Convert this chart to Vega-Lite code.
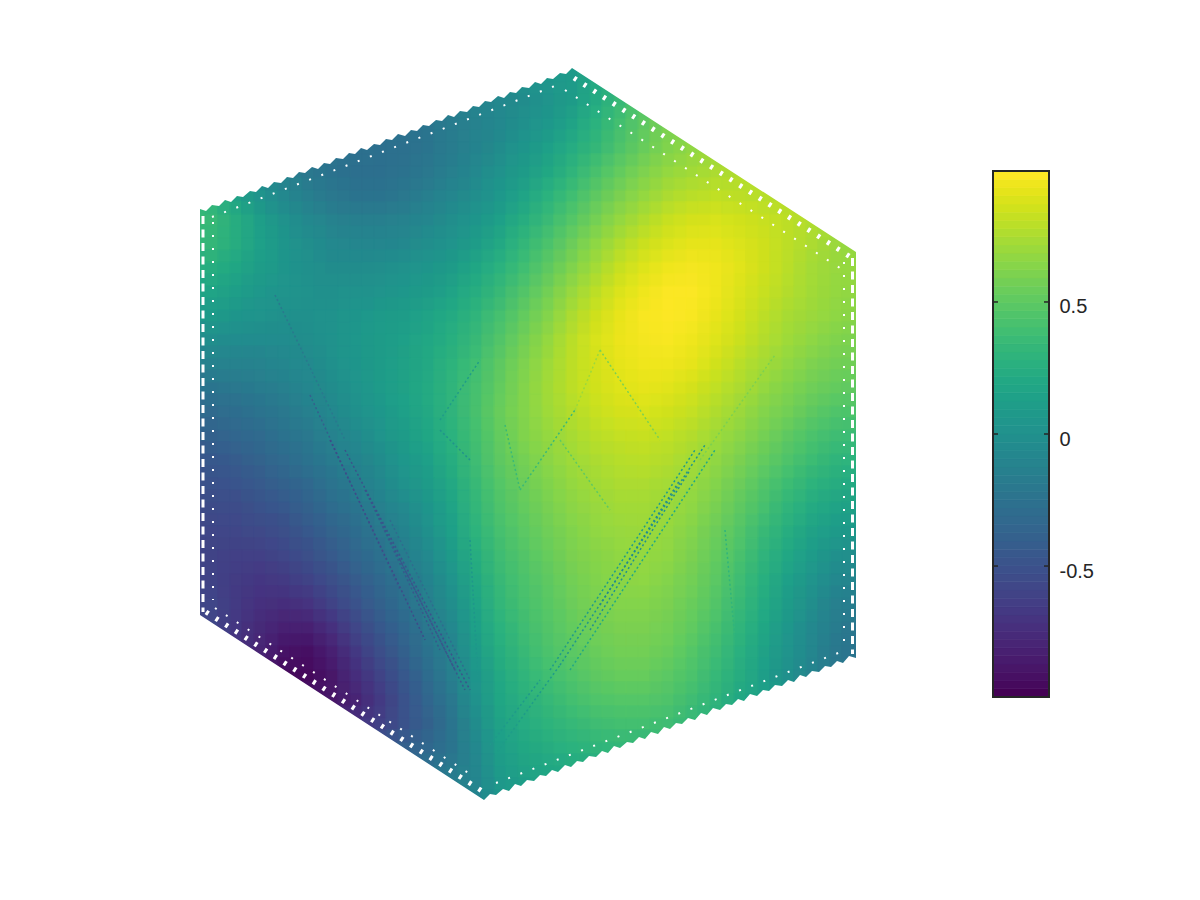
{"$schema":"https://vega.github.io/schema/vega-lite/v6.json","width":1200,"height":900,"padding":0,"autosize":{"type":"none"},"background":"white","config":{"view":{"stroke":null}},
"datasets":{
"cells":[
{"x":524,"y":76,"v":0.02},{"x":548,"y":76,"v":0.06},{"x":572,"y":76,"v":0.08},{"x":596,"y":76,"v":0.22},
{"x":452,"y":100,"v":-0.15},{"x":476,"y":100,"v":-0.1},{"x":500,"y":100,"v":-0.07},{"x":524,"y":100,"v":-0.03},{"x":548,"y":100,"v":0.03},{"x":572,"y":100,"v":0.1},{"x":596,"y":100,"v":0.22},{"x":620,"y":100,"v":0.35},{"x":644,"y":100,"v":0.47},
{"x":404,"y":124,"v":-0.25},{"x":428,"y":124,"v":-0.22},{"x":452,"y":124,"v":-0.17},{"x":476,"y":124,"v":-0.12},{"x":500,"y":124,"v":-0.07},{"x":524,"y":124,"v":0},{"x":548,"y":124,"v":0.07},{"x":572,"y":124,"v":0.16},{"x":596,"y":124,"v":0.28},{"x":620,"y":124,"v":0.4},{"x":644,"y":124,"v":0.5},{"x":668,"y":124,"v":0.6},
{"x":332,"y":148,"v":-0.22},{"x":356,"y":148,"v":-0.26},{"x":380,"y":148,"v":-0.27},{"x":404,"y":148,"v":-0.26},{"x":428,"y":148,"v":-0.22},{"x":452,"y":148,"v":-0.17},{"x":476,"y":148,"v":-0.1},{"x":500,"y":148,"v":-0.03},{"x":524,"y":148,"v":0.05},{"x":548,"y":148,"v":0.13},{"x":572,"y":148,"v":0.23},{"x":596,"y":148,"v":0.33},{"x":620,"y":148,"v":0.44},{"x":644,"y":148,"v":0.54},{"x":668,"y":148,"v":0.62},{"x":692,"y":148,"v":0.67},{"x":716,"y":148,"v":0.7},
{"x":260,"y":172,"v":-0.05},{"x":284,"y":172,"v":-0.13},{"x":308,"y":172,"v":-0.2},{"x":332,"y":172,"v":-0.25},{"x":356,"y":172,"v":-0.27},{"x":380,"y":172,"v":-0.27},{"x":404,"y":172,"v":-0.25},{"x":428,"y":172,"v":-0.2},{"x":452,"y":172,"v":-0.14},{"x":476,"y":172,"v":-0.06},{"x":500,"y":172,"v":0.02},{"x":524,"y":172,"v":0.1},{"x":548,"y":172,"v":0.2},{"x":572,"y":172,"v":0.31},{"x":596,"y":172,"v":0.42},{"x":620,"y":172,"v":0.52},{"x":644,"y":172,"v":0.61},{"x":668,"y":172,"v":0.68},{"x":692,"y":172,"v":0.72},{"x":716,"y":172,"v":0.75},{"x":740,"y":172,"v":0.76},
{"x":212,"y":196,"v":0.28},{"x":236,"y":196,"v":0.15},{"x":260,"y":196,"v":0.03},{"x":284,"y":196,"v":-0.07},{"x":308,"y":196,"v":-0.15},{"x":332,"y":196,"v":-0.2},{"x":356,"y":196,"v":-0.23},{"x":380,"y":196,"v":-0.23},{"x":404,"y":196,"v":-0.2},{"x":428,"y":196,"v":-0.15},{"x":452,"y":196,"v":-0.09},{"x":476,"y":196,"v":-0.02},{"x":500,"y":196,"v":0.07},{"x":524,"y":196,"v":0.17},{"x":548,"y":196,"v":0.28},{"x":572,"y":196,"v":0.39},{"x":596,"y":196,"v":0.5},{"x":620,"y":196,"v":0.6},{"x":644,"y":196,"v":0.68},{"x":668,"y":196,"v":0.75},{"x":692,"y":196,"v":0.79},{"x":716,"y":196,"v":0.81},{"x":740,"y":196,"v":0.8},{"x":764,"y":196,"v":0.78},{"x":788,"y":196,"v":0.77},
{"x":212,"y":220,"v":0.35},{"x":236,"y":220,"v":0.24},{"x":260,"y":220,"v":0.12},{"x":284,"y":220,"v":0.02},{"x":308,"y":220,"v":-0.06},{"x":332,"y":220,"v":-0.12},{"x":356,"y":220,"v":-0.15},{"x":380,"y":220,"v":-0.15},{"x":404,"y":220,"v":-0.12},{"x":428,"y":220,"v":-0.08},{"x":452,"y":220,"v":-0.02},{"x":476,"y":220,"v":0.05},{"x":500,"y":220,"v":0.14},{"x":524,"y":220,"v":0.25},{"x":548,"y":220,"v":0.36},{"x":572,"y":220,"v":0.47},{"x":596,"y":220,"v":0.58},{"x":620,"y":220,"v":0.68},{"x":644,"y":220,"v":0.76},{"x":668,"y":220,"v":0.83},{"x":692,"y":220,"v":0.87},{"x":716,"y":220,"v":0.88},{"x":740,"y":220,"v":0.86},{"x":764,"y":220,"v":0.83},{"x":788,"y":220,"v":0.8},{"x":812,"y":220,"v":0.76},{"x":836,"y":220,"v":0.72},
{"x":212,"y":244,"v":0.33},{"x":236,"y":244,"v":0.24},{"x":260,"y":244,"v":0.14},{"x":284,"y":244,"v":0.05},{"x":308,"y":244,"v":-0.02},{"x":332,"y":244,"v":-0.07},{"x":356,"y":244,"v":-0.09},{"x":380,"y":244,"v":-0.09},{"x":404,"y":244,"v":-0.06},{"x":428,"y":244,"v":-0.02},{"x":452,"y":244,"v":0.04},{"x":476,"y":244,"v":0.11},{"x":500,"y":244,"v":0.21},{"x":524,"y":244,"v":0.32},{"x":548,"y":244,"v":0.43},{"x":572,"y":244,"v":0.55},{"x":596,"y":244,"v":0.66},{"x":620,"y":244,"v":0.76},{"x":644,"y":244,"v":0.84},{"x":668,"y":244,"v":0.89},{"x":692,"y":244,"v":0.92},{"x":716,"y":244,"v":0.92},{"x":740,"y":244,"v":0.89},{"x":764,"y":244,"v":0.85},{"x":788,"y":244,"v":0.8},{"x":812,"y":244,"v":0.75},{"x":836,"y":244,"v":0.7},{"x":860,"y":244,"v":0.67},
{"x":212,"y":268,"v":0.25},{"x":236,"y":268,"v":0.18},{"x":260,"y":268,"v":0.11},{"x":284,"y":268,"v":0.05},{"x":308,"y":268,"v":0},{"x":332,"y":268,"v":-0.03},{"x":356,"y":268,"v":-0.03},{"x":380,"y":268,"v":-0.02},{"x":404,"y":268,"v":0.01},{"x":428,"y":268,"v":0.05},{"x":452,"y":268,"v":0.1},{"x":476,"y":268,"v":0.18},{"x":500,"y":268,"v":0.28},{"x":524,"y":268,"v":0.39},{"x":548,"y":268,"v":0.5},{"x":572,"y":268,"v":0.62},{"x":596,"y":268,"v":0.73},{"x":620,"y":268,"v":0.83},{"x":644,"y":268,"v":0.9},{"x":668,"y":268,"v":0.95},{"x":692,"y":268,"v":0.97},{"x":716,"y":268,"v":0.95},{"x":740,"y":268,"v":0.91},{"x":764,"y":268,"v":0.85},{"x":788,"y":268,"v":0.79},{"x":812,"y":268,"v":0.73},{"x":836,"y":268,"v":0.69},{"x":860,"y":268,"v":0.68},
{"x":212,"y":292,"v":0.17},{"x":236,"y":292,"v":0.12},{"x":260,"y":292,"v":0.07},{"x":284,"y":292,"v":0.03},{"x":308,"y":292,"v":0.01},{"x":332,"y":292,"v":0},{"x":356,"y":292,"v":0.01},{"x":380,"y":292,"v":0.03},{"x":404,"y":292,"v":0.06},{"x":428,"y":292,"v":0.1},{"x":452,"y":292,"v":0.16},{"x":476,"y":292,"v":0.25},{"x":500,"y":292,"v":0.35},{"x":524,"y":292,"v":0.46},{"x":548,"y":292,"v":0.57},{"x":572,"y":292,"v":0.69},{"x":596,"y":292,"v":0.8},{"x":620,"y":292,"v":0.89},{"x":644,"y":292,"v":0.95},{"x":668,"y":292,"v":0.99},{"x":692,"y":292,"v":0.99},{"x":716,"y":292,"v":0.95},{"x":740,"y":292,"v":0.89},{"x":764,"y":292,"v":0.83},{"x":788,"y":292,"v":0.77},{"x":812,"y":292,"v":0.72},{"x":836,"y":292,"v":0.68},{"x":860,"y":292,"v":0.66},
{"x":212,"y":316,"v":0.08},{"x":236,"y":316,"v":0.05},{"x":260,"y":316,"v":0.03},{"x":284,"y":316,"v":0},{"x":308,"y":316,"v":0},{"x":332,"y":316,"v":0.02},{"x":356,"y":316,"v":0.05},{"x":380,"y":316,"v":0.08},{"x":404,"y":316,"v":0.11},{"x":428,"y":316,"v":0.16},{"x":452,"y":316,"v":0.22},{"x":476,"y":316,"v":0.31},{"x":500,"y":316,"v":0.41},{"x":524,"y":316,"v":0.52},{"x":548,"y":316,"v":0.63},{"x":572,"y":316,"v":0.75},{"x":596,"y":316,"v":0.85},{"x":620,"y":316,"v":0.93},{"x":644,"y":316,"v":0.98},{"x":668,"y":316,"v":1},{"x":692,"y":316,"v":0.98},{"x":716,"y":316,"v":0.93},{"x":740,"y":316,"v":0.87},{"x":764,"y":316,"v":0.8},{"x":788,"y":316,"v":0.74},{"x":812,"y":316,"v":0.7},{"x":836,"y":316,"v":0.66},{"x":860,"y":316,"v":0.64},
{"x":212,"y":340,"v":-0.02},{"x":236,"y":340,"v":-0.04},{"x":260,"y":340,"v":-0.04},{"x":284,"y":340,"v":-0.04},{"x":308,"y":340,"v":-0.02},{"x":332,"y":340,"v":0.02},{"x":356,"y":340,"v":0.06},{"x":380,"y":340,"v":0.1},{"x":404,"y":340,"v":0.14},{"x":428,"y":340,"v":0.19},{"x":452,"y":340,"v":0.26},{"x":476,"y":340,"v":0.35},{"x":500,"y":340,"v":0.46},{"x":524,"y":340,"v":0.57},{"x":548,"y":340,"v":0.68},{"x":572,"y":340,"v":0.79},{"x":596,"y":340,"v":0.88},{"x":620,"y":340,"v":0.94},{"x":644,"y":340,"v":0.97},{"x":668,"y":340,"v":0.98},{"x":692,"y":340,"v":0.95},{"x":716,"y":340,"v":0.9},{"x":740,"y":340,"v":0.84},{"x":764,"y":340,"v":0.77},{"x":788,"y":340,"v":0.71},{"x":812,"y":340,"v":0.66},{"x":836,"y":340,"v":0.62},{"x":860,"y":340,"v":0.6},
{"x":212,"y":364,"v":-0.12},{"x":236,"y":364,"v":-0.12},{"x":260,"y":364,"v":-0.11},{"x":284,"y":364,"v":-0.08},{"x":308,"y":364,"v":-0.05},{"x":332,"y":364,"v":0},{"x":356,"y":364,"v":0.05},{"x":380,"y":364,"v":0.1},{"x":404,"y":364,"v":0.15},{"x":428,"y":364,"v":0.21},{"x":452,"y":364,"v":0.29},{"x":476,"y":364,"v":0.39},{"x":500,"y":364,"v":0.5},{"x":524,"y":364,"v":0.61},{"x":548,"y":364,"v":0.71},{"x":572,"y":364,"v":0.8},{"x":596,"y":364,"v":0.87},{"x":620,"y":364,"v":0.92},{"x":644,"y":364,"v":0.95},{"x":668,"y":364,"v":0.95},{"x":692,"y":364,"v":0.92},{"x":716,"y":364,"v":0.86},{"x":740,"y":364,"v":0.79},{"x":764,"y":364,"v":0.73},{"x":788,"y":364,"v":0.67},{"x":812,"y":364,"v":0.61},{"x":836,"y":364,"v":0.57},{"x":860,"y":364,"v":0.56},
{"x":212,"y":388,"v":-0.22},{"x":236,"y":388,"v":-0.2},{"x":260,"y":388,"v":-0.17},{"x":284,"y":388,"v":-0.13},{"x":308,"y":388,"v":-0.09},{"x":332,"y":388,"v":-0.03},{"x":356,"y":388,"v":0.03},{"x":380,"y":388,"v":0.09},{"x":404,"y":388,"v":0.15},{"x":428,"y":388,"v":0.22},{"x":452,"y":388,"v":0.31},{"x":476,"y":388,"v":0.41},{"x":500,"y":388,"v":0.52},{"x":524,"y":388,"v":0.63},{"x":548,"y":388,"v":0.72},{"x":572,"y":388,"v":0.8},{"x":596,"y":388,"v":0.86},{"x":620,"y":388,"v":0.9},{"x":644,"y":388,"v":0.92},{"x":668,"y":388,"v":0.91},{"x":692,"y":388,"v":0.87},{"x":716,"y":388,"v":0.81},{"x":740,"y":388,"v":0.75},{"x":764,"y":388,"v":0.68},{"x":788,"y":388,"v":0.62},{"x":812,"y":388,"v":0.56},{"x":836,"y":388,"v":0.52},{"x":860,"y":388,"v":0.5},
{"x":212,"y":412,"v":-0.31},{"x":236,"y":412,"v":-0.28},{"x":260,"y":412,"v":-0.24},{"x":284,"y":412,"v":-0.19},{"x":308,"y":412,"v":-0.13},{"x":332,"y":412,"v":-0.07},{"x":356,"y":412,"v":0},{"x":380,"y":412,"v":0.06},{"x":404,"y":412,"v":0.13},{"x":428,"y":412,"v":0.21},{"x":452,"y":412,"v":0.3},{"x":476,"y":412,"v":0.42},{"x":500,"y":412,"v":0.54},{"x":524,"y":412,"v":0.63},{"x":548,"y":412,"v":0.71},{"x":572,"y":412,"v":0.77},{"x":596,"y":412,"v":0.83},{"x":620,"y":412,"v":0.87},{"x":644,"y":412,"v":0.88},{"x":668,"y":412,"v":0.86},{"x":692,"y":412,"v":0.82},{"x":716,"y":412,"v":0.76},{"x":740,"y":412,"v":0.7},{"x":764,"y":412,"v":0.63},{"x":788,"y":412,"v":0.57},{"x":812,"y":412,"v":0.5},{"x":836,"y":412,"v":0.45},{"x":860,"y":412,"v":0.43},
{"x":212,"y":436,"v":-0.38},{"x":236,"y":436,"v":-0.35},{"x":260,"y":436,"v":-0.31},{"x":284,"y":436,"v":-0.25},{"x":308,"y":436,"v":-0.19},{"x":332,"y":436,"v":-0.12},{"x":356,"y":436,"v":-0.05},{"x":380,"y":436,"v":0.03},{"x":404,"y":436,"v":0.1},{"x":428,"y":436,"v":0.18},{"x":452,"y":436,"v":0.28},{"x":476,"y":436,"v":0.4},{"x":500,"y":436,"v":0.52},{"x":524,"y":436,"v":0.62},{"x":548,"y":436,"v":0.68},{"x":572,"y":436,"v":0.74},{"x":596,"y":436,"v":0.79},{"x":620,"y":436,"v":0.82},{"x":644,"y":436,"v":0.83},{"x":668,"y":436,"v":0.81},{"x":692,"y":436,"v":0.77},{"x":716,"y":436,"v":0.71},{"x":740,"y":436,"v":0.65},{"x":764,"y":436,"v":0.58},{"x":788,"y":436,"v":0.5},{"x":812,"y":436,"v":0.43},{"x":836,"y":436,"v":0.38},{"x":860,"y":436,"v":0.36},
{"x":212,"y":460,"v":-0.45},{"x":236,"y":460,"v":-0.42},{"x":260,"y":460,"v":-0.37},{"x":284,"y":460,"v":-0.31},{"x":308,"y":460,"v":-0.25},{"x":332,"y":460,"v":-0.18},{"x":356,"y":460,"v":-0.1},{"x":380,"y":460,"v":-0.03},{"x":404,"y":460,"v":0.06},{"x":428,"y":460,"v":0.14},{"x":452,"y":460,"v":0.25},{"x":476,"y":460,"v":0.38},{"x":500,"y":460,"v":0.5},{"x":524,"y":460,"v":0.58},{"x":548,"y":460,"v":0.65},{"x":572,"y":460,"v":0.71},{"x":596,"y":460,"v":0.75},{"x":620,"y":460,"v":0.78},{"x":644,"y":460,"v":0.79},{"x":668,"y":460,"v":0.77},{"x":692,"y":460,"v":0.73},{"x":716,"y":460,"v":0.67},{"x":740,"y":460,"v":0.6},{"x":764,"y":460,"v":0.52},{"x":788,"y":460,"v":0.44},{"x":812,"y":460,"v":0.37},{"x":836,"y":460,"v":0.31},{"x":860,"y":460,"v":0.28},
{"x":212,"y":484,"v":-0.5},{"x":236,"y":484,"v":-0.48},{"x":260,"y":484,"v":-0.44},{"x":284,"y":484,"v":-0.38},{"x":308,"y":484,"v":-0.32},{"x":332,"y":484,"v":-0.24},{"x":356,"y":484,"v":-0.16},{"x":380,"y":484,"v":-0.08},{"x":404,"y":484,"v":0.01},{"x":428,"y":484,"v":0.1},{"x":452,"y":484,"v":0.21},{"x":476,"y":484,"v":0.35},{"x":500,"y":484,"v":0.47},{"x":524,"y":484,"v":0.55},{"x":548,"y":484,"v":0.62},{"x":572,"y":484,"v":0.68},{"x":596,"y":484,"v":0.72},{"x":620,"y":484,"v":0.75},{"x":644,"y":484,"v":0.75},{"x":668,"y":484,"v":0.73},{"x":692,"y":484,"v":0.69},{"x":716,"y":484,"v":0.63},{"x":740,"y":484,"v":0.55},{"x":764,"y":484,"v":0.46},{"x":788,"y":484,"v":0.37},{"x":812,"y":484,"v":0.29},{"x":836,"y":484,"v":0.24},{"x":860,"y":484,"v":0.2},
{"x":212,"y":508,"v":-0.55},{"x":236,"y":508,"v":-0.54},{"x":260,"y":508,"v":-0.5},{"x":284,"y":508,"v":-0.45},{"x":308,"y":508,"v":-0.38},{"x":332,"y":508,"v":-0.3},{"x":356,"y":508,"v":-0.22},{"x":380,"y":508,"v":-0.14},{"x":404,"y":508,"v":-0.05},{"x":428,"y":508,"v":0.05},{"x":452,"y":508,"v":0.17},{"x":476,"y":508,"v":0.32},{"x":500,"y":508,"v":0.44},{"x":524,"y":508,"v":0.52},{"x":548,"y":508,"v":0.59},{"x":572,"y":508,"v":0.65},{"x":596,"y":508,"v":0.69},{"x":620,"y":508,"v":0.72},{"x":644,"y":508,"v":0.72},{"x":668,"y":508,"v":0.7},{"x":692,"y":508,"v":0.66},{"x":716,"y":508,"v":0.59},{"x":740,"y":508,"v":0.5},{"x":764,"y":508,"v":0.41},{"x":788,"y":508,"v":0.31},{"x":812,"y":508,"v":0.22},{"x":836,"y":508,"v":0.16},{"x":860,"y":508,"v":0.12},
{"x":212,"y":532,"v":-0.58},{"x":236,"y":532,"v":-0.58},{"x":260,"y":532,"v":-0.56},{"x":284,"y":532,"v":-0.52},{"x":308,"y":532,"v":-0.45},{"x":332,"y":532,"v":-0.37},{"x":356,"y":532,"v":-0.29},{"x":380,"y":532,"v":-0.2},{"x":404,"y":532,"v":-0.1},{"x":428,"y":532,"v":0},{"x":452,"y":532,"v":0.13},{"x":476,"y":532,"v":0.29},{"x":500,"y":532,"v":0.41},{"x":524,"y":532,"v":0.49},{"x":548,"y":532,"v":0.56},{"x":572,"y":532,"v":0.62},{"x":596,"y":532,"v":0.67},{"x":620,"y":532,"v":0.69},{"x":644,"y":532,"v":0.7},{"x":668,"y":532,"v":0.68},{"x":692,"y":532,"v":0.63},{"x":716,"y":532,"v":0.55},{"x":740,"y":532,"v":0.46},{"x":764,"y":532,"v":0.35},{"x":788,"y":532,"v":0.25},{"x":812,"y":532,"v":0.15},{"x":836,"y":532,"v":0.08},{"x":860,"y":532,"v":0.05},
{"x":212,"y":556,"v":-0.6},{"x":236,"y":556,"v":-0.62},{"x":260,"y":556,"v":-0.62},{"x":284,"y":556,"v":-0.58},{"x":308,"y":556,"v":-0.52},{"x":332,"y":556,"v":-0.44},{"x":356,"y":556,"v":-0.35},{"x":380,"y":556,"v":-0.26},{"x":404,"y":556,"v":-0.16},{"x":428,"y":556,"v":-0.05},{"x":452,"y":556,"v":0.08},{"x":476,"y":556,"v":0.25},{"x":500,"y":556,"v":0.38},{"x":524,"y":556,"v":0.46},{"x":548,"y":556,"v":0.53},{"x":572,"y":556,"v":0.6},{"x":596,"y":556,"v":0.64},{"x":620,"y":556,"v":0.67},{"x":644,"y":556,"v":0.68},{"x":668,"y":556,"v":0.66},{"x":692,"y":556,"v":0.6},{"x":716,"y":556,"v":0.52},{"x":740,"y":556,"v":0.42},{"x":764,"y":556,"v":0.3},{"x":788,"y":556,"v":0.19},{"x":812,"y":556,"v":0.09},{"x":836,"y":556,"v":0},{"x":860,"y":556,"v":-0.03},
{"x":212,"y":580,"v":-0.6},{"x":236,"y":580,"v":-0.65},{"x":260,"y":580,"v":-0.68},{"x":284,"y":580,"v":-0.66},{"x":308,"y":580,"v":-0.6},{"x":332,"y":580,"v":-0.52},{"x":356,"y":580,"v":-0.42},{"x":380,"y":580,"v":-0.32},{"x":404,"y":580,"v":-0.22},{"x":428,"y":580,"v":-0.1},{"x":452,"y":580,"v":0.03},{"x":476,"y":580,"v":0.21},{"x":500,"y":580,"v":0.35},{"x":524,"y":580,"v":0.43},{"x":548,"y":580,"v":0.5},{"x":572,"y":580,"v":0.57},{"x":596,"y":580,"v":0.62},{"x":620,"y":580,"v":0.65},{"x":644,"y":580,"v":0.66},{"x":668,"y":580,"v":0.63},{"x":692,"y":580,"v":0.57},{"x":716,"y":580,"v":0.49},{"x":740,"y":580,"v":0.38},{"x":764,"y":580,"v":0.26},{"x":788,"y":580,"v":0.14},{"x":812,"y":580,"v":0.03},{"x":836,"y":580,"v":-0.07},{"x":860,"y":580,"v":-0.1},
{"x":212,"y":604,"v":-0.58},{"x":236,"y":604,"v":-0.66},{"x":260,"y":604,"v":-0.72},{"x":284,"y":604,"v":-0.74},{"x":308,"y":604,"v":-0.7},{"x":332,"y":604,"v":-0.6},{"x":356,"y":604,"v":-0.49},{"x":380,"y":604,"v":-0.38},{"x":404,"y":604,"v":-0.27},{"x":428,"y":604,"v":-0.15},{"x":452,"y":604,"v":-0.02},{"x":476,"y":604,"v":0.17},{"x":500,"y":604,"v":0.32},{"x":524,"y":604,"v":0.41},{"x":548,"y":604,"v":0.48},{"x":572,"y":604,"v":0.55},{"x":596,"y":604,"v":0.6},{"x":620,"y":604,"v":0.63},{"x":644,"y":604,"v":0.63},{"x":668,"y":604,"v":0.6},{"x":692,"y":604,"v":0.54},{"x":716,"y":604,"v":0.46},{"x":740,"y":604,"v":0.35},{"x":764,"y":604,"v":0.22},{"x":788,"y":604,"v":0.1},{"x":812,"y":604,"v":-0.02},{"x":836,"y":604,"v":-0.13},{"x":860,"y":604,"v":-0.17},
{"x":212,"y":628,"v":-0.58},{"x":236,"y":628,"v":-0.68},{"x":260,"y":628,"v":-0.76},{"x":284,"y":628,"v":-0.82},{"x":308,"y":628,"v":-0.82},{"x":332,"y":628,"v":-0.72},{"x":356,"y":628,"v":-0.58},{"x":380,"y":628,"v":-0.45},{"x":404,"y":628,"v":-0.33},{"x":428,"y":628,"v":-0.2},{"x":452,"y":628,"v":-0.07},{"x":476,"y":628,"v":0.13},{"x":500,"y":628,"v":0.28},{"x":524,"y":628,"v":0.38},{"x":548,"y":628,"v":0.46},{"x":572,"y":628,"v":0.52},{"x":596,"y":628,"v":0.57},{"x":620,"y":628,"v":0.6},{"x":644,"y":628,"v":0.6},{"x":668,"y":628,"v":0.57},{"x":692,"y":628,"v":0.51},{"x":716,"y":628,"v":0.42},{"x":740,"y":628,"v":0.31},{"x":764,"y":628,"v":0.18},{"x":788,"y":628,"v":0.06},{"x":812,"y":628,"v":-0.06},{"x":836,"y":628,"v":-0.17},{"x":860,"y":628,"v":-0.22},
{"x":236,"y":652,"v":-0.7},{"x":260,"y":652,"v":-0.8},{"x":284,"y":652,"v":-0.9},{"x":308,"y":652,"v":-0.92},{"x":332,"y":652,"v":-0.82},{"x":356,"y":652,"v":-0.67},{"x":380,"y":652,"v":-0.53},{"x":404,"y":652,"v":-0.39},{"x":428,"y":652,"v":-0.25},{"x":452,"y":652,"v":-0.11},{"x":476,"y":652,"v":0.09},{"x":500,"y":652,"v":0.25},{"x":524,"y":652,"v":0.35},{"x":548,"y":652,"v":0.43},{"x":572,"y":652,"v":0.49},{"x":596,"y":652,"v":0.54},{"x":620,"y":652,"v":0.57},{"x":644,"y":652,"v":0.57},{"x":668,"y":652,"v":0.54},{"x":692,"y":652,"v":0.47},{"x":716,"y":652,"v":0.38},{"x":740,"y":652,"v":0.27},{"x":764,"y":652,"v":0.15},{"x":788,"y":652,"v":0.03},{"x":812,"y":652,"v":-0.09},{"x":836,"y":652,"v":-0.2},{"x":860,"y":652,"v":-0.25},
{"x":284,"y":676,"v":-0.95},{"x":308,"y":676,"v":-0.95},{"x":332,"y":676,"v":-0.88},{"x":356,"y":676,"v":-0.74},{"x":380,"y":676,"v":-0.6},{"x":404,"y":676,"v":-0.45},{"x":428,"y":676,"v":-0.3},{"x":452,"y":676,"v":-0.15},{"x":476,"y":676,"v":0.05},{"x":500,"y":676,"v":0.21},{"x":524,"y":676,"v":0.31},{"x":548,"y":676,"v":0.39},{"x":572,"y":676,"v":0.45},{"x":596,"y":676,"v":0.5},{"x":620,"y":676,"v":0.53},{"x":644,"y":676,"v":0.53},{"x":668,"y":676,"v":0.49},{"x":692,"y":676,"v":0.43},{"x":716,"y":676,"v":0.34},{"x":740,"y":676,"v":0.24},{"x":764,"y":676,"v":0.12},{"x":788,"y":676,"v":0},{"x":812,"y":676,"v":-0.11},{"x":836,"y":676,"v":-0.2},
{"x":308,"y":700,"v":-0.9},{"x":332,"y":700,"v":-0.88},{"x":356,"y":700,"v":-0.8},{"x":380,"y":700,"v":-0.66},{"x":404,"y":700,"v":-0.5},{"x":428,"y":700,"v":-0.35},{"x":452,"y":700,"v":-0.19},{"x":476,"y":700,"v":0.01},{"x":500,"y":700,"v":0.18},{"x":524,"y":700,"v":0.27},{"x":548,"y":700,"v":0.34},{"x":572,"y":700,"v":0.4},{"x":596,"y":700,"v":0.45},{"x":620,"y":700,"v":0.47},{"x":644,"y":700,"v":0.47},{"x":668,"y":700,"v":0.44},{"x":692,"y":700,"v":0.38},{"x":716,"y":700,"v":0.3},{"x":740,"y":700,"v":0.2},{"x":764,"y":700,"v":0.13},{"x":788,"y":700,"v":0.05},
{"x":356,"y":724,"v":-0.7},{"x":380,"y":724,"v":-0.62},{"x":404,"y":724,"v":-0.5},{"x":428,"y":724,"v":-0.38},{"x":452,"y":724,"v":-0.22},{"x":476,"y":724,"v":-0.03},{"x":500,"y":724,"v":0.15},{"x":524,"y":724,"v":0.23},{"x":548,"y":724,"v":0.29},{"x":572,"y":724,"v":0.34},{"x":596,"y":724,"v":0.38},{"x":620,"y":724,"v":0.4},{"x":644,"y":724,"v":0.4},{"x":668,"y":724,"v":0.38},{"x":692,"y":724,"v":0.33},{"x":716,"y":724,"v":0.27},
{"x":380,"y":748,"v":-0.45},{"x":404,"y":748,"v":-0.4},{"x":428,"y":748,"v":-0.32},{"x":452,"y":748,"v":-0.22},{"x":476,"y":748,"v":-0.06},{"x":500,"y":748,"v":0.12},{"x":524,"y":748,"v":0.2},{"x":548,"y":748,"v":0.24},{"x":572,"y":748,"v":0.28},{"x":596,"y":748,"v":0.31},{"x":620,"y":748,"v":0.32},{"x":644,"y":748,"v":0.3},
{"x":428,"y":772,"v":-0.25},{"x":452,"y":772,"v":-0.18},{"x":476,"y":772,"v":-0.08},{"x":500,"y":772,"v":0.08},{"x":524,"y":772,"v":0.15},{"x":548,"y":772,"v":0.18},{"x":572,"y":772,"v":0.2},{"x":596,"y":772,"v":0.22},
{"x":452,"y":796,"v":-0.15},{"x":476,"y":796,"v":-0.1},{"x":500,"y":796,"v":0.05},{"x":524,"y":796,"v":0.1}
],
"strands":[
{"s":"a","x":275,"y":295,"v":-0.2},{"s":"a","x":345,"y":440,"v":-0.2},
{"s":"b","x":310,"y":395,"v":-0.4},{"s":"b","x":400,"y":590,"v":-0.4},
{"s":"c","x":330,"y":440,"v":-0.55},{"s":"c","x":425,"y":640,"v":-0.55},
{"s":"d","x":345,"y":450,"v":-0.5},{"s":"d","x":470,"y":690,"v":-0.5},
{"s":"e","x":365,"y":490,"v":-0.5},{"s":"e","x":455,"y":670,"v":-0.5},
{"s":"f","x":390,"y":520,"v":-0.3},{"s":"f","x":470,"y":680,"v":-0.3},
{"s":"f2","x":375,"y":510,"v":-0.45},{"s":"f2","x":440,"y":650,"v":-0.45},
{"s":"f3","x":400,"y":560,"v":-0.45},{"s":"f3","x":465,"y":690,"v":-0.45},
{"s":"g","x":775,"y":355,"v":0.6},{"s":"g","x":700,"y":460,"v":0.6},
{"s":"h","x":705,"y":445,"v":0.05},{"s":"h","x":560,"y":665,"v":0.05},
{"s":"i","x":695,"y":450,"v":0.1},{"s":"i","x":550,"y":670,"v":0.1},
{"s":"j","x":715,"y":450,"v":0.2},{"s":"j","x":570,"y":670,"v":0.2},
{"s":"k","x":680,"y":480,"v":-0.05},{"s":"k","x":600,"y":605,"v":-0.05},
{"s":"k2","x":690,"y":470,"v":0},{"s":"k2","x":590,"y":630,"v":0},
{"s":"l","x":560,"y":665,"v":0.1},{"s":"l","x":495,"y":755,"v":0.1},
{"s":"m","x":540,"y":680,"v":0.08},{"s":"m","x":490,"y":745,"v":0.08},
{"s":"n","x":505,"y":425,"v":0.35},{"s":"n","x":520,"y":490,"v":0.35},
{"s":"o","x":520,"y":490,"v":0.35},{"s":"o","x":575,"y":410,"v":0.35},
{"s":"p","x":575,"y":410,"v":0.7},{"s":"p","x":600,"y":350,"v":0.7},
{"s":"q","x":600,"y":350,"v":0.6},{"s":"q","x":660,"y":440,"v":0.6},
{"s":"r","x":560,"y":440,"v":0.5},{"s":"r","x":610,"y":510,"v":0.5},
{"s":"t","x":480,"y":360,"v":0.1},{"s":"t","x":440,"y":420,"v":0.1},
{"s":"u","x":440,"y":430,"v":0.02},{"s":"u","x":470,"y":460,"v":0.02},
{"s":"w","x":470,"y":540,"v":0.05},{"s":"w","x":478,"y":680,"v":0.05},
{"s":"z","x":725,"y":530,"v":0.3},{"s":"z","x":735,"y":640,"v":0.3}
],
"upper":[
{"x":200,"e":209},{"x":206,"e":211},{"x":212,"e":205},{"x":219,"e":206},{"x":225,"e":200},{"x":231,"e":202},{"x":237,"e":196},{"x":243,"e":197},{"x":250,"e":191},{"x":256,"e":192},{"x":262,"e":186},{"x":268,"e":188},{"x":274,"e":182},{"x":281,"e":183},{"x":287,"e":177},{"x":293,"e":178},{"x":299,"e":172},{"x":305,"e":173},{"x":312,"e":167},{"x":318,"e":169},{"x":324,"e":163},{"x":330,"e":164},{"x":336,"e":158},{"x":343,"e":159},{"x":349,"e":153},{"x":355,"e":154},{"x":361,"e":148},{"x":367,"e":150},{"x":374,"e":144},{"x":380,"e":145},{"x":386,"e":139},{"x":392,"e":140},{"x":398,"e":134},{"x":405,"e":136},{"x":411,"e":130},{"x":417,"e":131},{"x":423,"e":125},{"x":429,"e":126},{"x":436,"e":120},{"x":442,"e":121},{"x":448,"e":115},{"x":454,"e":117},{"x":460,"e":111},{"x":467,"e":112},{"x":473,"e":106},{"x":479,"e":107},{"x":485,"e":101},{"x":491,"e":102},{"x":498,"e":96},{"x":504,"e":98},{"x":510,"e":92},{"x":516,"e":93},{"x":522,"e":87},{"x":529,"e":88},{"x":535,"e":82},{"x":541,"e":84},{"x":547,"e":78},{"x":553,"e":79},{"x":560,"e":73},{"x":566,"e":74},{"x":572,"e":68},{"x":856,"e":252},{"x":885,"e":252}
],
"lower":[
{"x":200,"e":615},{"x":484,"e":800},{"x":490,"e":794},{"x":496,"e":795},{"x":503,"e":789},{"x":509,"e":791},{"x":515,"e":784},{"x":521,"e":786},{"x":527,"e":780},{"x":534,"e":781},{"x":540,"e":775},{"x":546,"e":776},{"x":552,"e":770},{"x":558,"e":772},{"x":565,"e":765},{"x":571,"e":767},{"x":577,"e":761},{"x":583,"e":762},{"x":589,"e":756},{"x":596,"e":757},{"x":602,"e":751},{"x":608,"e":753},{"x":614,"e":746},{"x":620,"e":748},{"x":627,"e":742},{"x":633,"e":743},{"x":639,"e":737},{"x":645,"e":739},{"x":651,"e":732},{"x":658,"e":734},{"x":664,"e":727},{"x":670,"e":729},{"x":676,"e":723},{"x":682,"e":724},{"x":688,"e":718},{"x":695,"e":720},{"x":701,"e":713},{"x":707,"e":715},{"x":713,"e":708},{"x":720,"e":710},{"x":726,"e":704},{"x":732,"e":705},{"x":738,"e":699},{"x":744,"e":701},{"x":750,"e":694},{"x":757,"e":696},{"x":763,"e":690},{"x":769,"e":691},{"x":775,"e":685},{"x":782,"e":686},{"x":788,"e":680},{"x":794,"e":682},{"x":800,"e":675},{"x":806,"e":677},{"x":812,"e":671},{"x":819,"e":672},{"x":825,"e":666},{"x":831,"e":667},{"x":837,"e":661},{"x":843,"e":663},{"x":849,"e":656},{"x":856,"e":658},{"x":885,"e":658}
],
"sides":[{"s":"left","x":180},{"s":"left","x":200},{"s":"right","x":856},{"s":"right","x":885}],
"holesV":[{"s":"L","x":203,"y":216},{"s":"L","x":203,"y":612},{"s":"R","x":852.5,"y":258},{"s":"R","x":852.5,"y":654}],
"holesD":[{"s":"TR","x":574,"y":78},{"s":"TR","x":852,"y":258},{"s":"BL","x":206,"y":612},{"s":"BL","x":482,"y":791}],
"holesS":[{"s":"TL","x":212,"y":217},{"s":"TL","x":560,"y":84},{"s":"BR","x":496,"y":783},{"s":"BR","x":846,"y":650},{"s":"C1","x":213,"y":222},{"s":"C1","x":213,"y":600},{"s":"C2","x":844,"y":262},{"s":"C2","x":844,"y":645},{"s":"TR2","x":565,"y":90},{"s":"TR2","x":843,"y":270},{"s":"BL2","x":215,"y":608},{"s":"BL2","x":476,"y":778}],
"bar":[
{"lo":-0.996,"hi":-0.965,"v":-0.996},{"lo":-0.965,"hi":-0.934,"v":-0.95},{"lo":-0.934,"hi":-0.903,"v":-0.918},{"lo":-0.903,"hi":-0.871,"v":-0.887},{"lo":-0.871,"hi":-0.84,"v":-0.856},{"lo":-0.84,"hi":-0.809,"v":-0.825},{"lo":-0.809,"hi":-0.778,"v":-0.794},{"lo":-0.778,"hi":-0.747,"v":-0.762},{"lo":-0.747,"hi":-0.716,"v":-0.731},{"lo":-0.716,"hi":-0.685,"v":-0.7},{"lo":-0.685,"hi":-0.654,"v":-0.669},{"lo":-0.654,"hi":-0.622,"v":-0.638},{"lo":-0.622,"hi":-0.591,"v":-0.607},{"lo":-0.591,"hi":-0.56,"v":-0.576},{"lo":-0.56,"hi":-0.529,"v":-0.545},{"lo":-0.529,"hi":-0.498,"v":-0.513},{"lo":-0.498,"hi":-0.467,"v":-0.482},{"lo":-0.467,"hi":-0.436,"v":-0.451},{"lo":-0.436,"hi":-0.405,"v":-0.42},{"lo":-0.405,"hi":-0.373,"v":-0.389},{"lo":-0.373,"hi":-0.342,"v":-0.358},{"lo":-0.342,"hi":-0.311,"v":-0.327},{"lo":-0.311,"hi":-0.28,"v":-0.296},{"lo":-0.28,"hi":-0.249,"v":-0.264},{"lo":-0.249,"hi":-0.218,"v":-0.233},{"lo":-0.218,"hi":-0.187,"v":-0.202},{"lo":-0.187,"hi":-0.156,"v":-0.171},{"lo":-0.156,"hi":-0.125,"v":-0.14},{"lo":-0.125,"hi":-0.093,"v":-0.109},{"lo":-0.093,"hi":-0.062,"v":-0.078},{"lo":-0.062,"hi":-0.031,"v":-0.047},{"lo":-0.031,"hi":0,"v":-0.016},
{"lo":0,"hi":0.031,"v":0.016},{"lo":0.031,"hi":0.062,"v":0.047},{"lo":0.062,"hi":0.093,"v":0.078},{"lo":0.093,"hi":0.125,"v":0.109},{"lo":0.125,"hi":0.156,"v":0.14},{"lo":0.156,"hi":0.187,"v":0.171},{"lo":0.187,"hi":0.218,"v":0.202},{"lo":0.218,"hi":0.249,"v":0.233},{"lo":0.249,"hi":0.28,"v":0.264},{"lo":0.28,"hi":0.311,"v":0.296},{"lo":0.311,"hi":0.342,"v":0.327},{"lo":0.342,"hi":0.373,"v":0.358},{"lo":0.373,"hi":0.405,"v":0.389},{"lo":0.405,"hi":0.436,"v":0.42},{"lo":0.436,"hi":0.467,"v":0.451},{"lo":0.467,"hi":0.498,"v":0.482},{"lo":0.498,"hi":0.529,"v":0.513},{"lo":0.529,"hi":0.56,"v":0.545},{"lo":0.56,"hi":0.591,"v":0.576},{"lo":0.591,"hi":0.622,"v":0.607},{"lo":0.622,"hi":0.654,"v":0.638},{"lo":0.654,"hi":0.685,"v":0.669},{"lo":0.685,"hi":0.716,"v":0.7},{"lo":0.716,"hi":0.747,"v":0.731},{"lo":0.747,"hi":0.778,"v":0.762},{"lo":0.778,"hi":0.809,"v":0.794},{"lo":0.809,"hi":0.84,"v":0.825},{"lo":0.84,"hi":0.871,"v":0.856},{"lo":0.871,"hi":0.903,"v":0.887},{"lo":0.903,"hi":0.934,"v":0.918},{"lo":0.934,"hi":0.965,"v":0.95},{"lo":0.965,"hi":0.996,"v":0.996}
],
"ticks":[{"t":-0.5},{"t":0},{"t":0.5}]
},
"layer":[
{"layer":[
{"data":{"name":"cells"},"mark":{"type":"square","size":650,"opacity":1},"encoding":{"x":{"field":"x","type":"quantitative","axis":null,"scale":{"domain":[0,1200],"nice":false,"zero":false}},"y":{"field":"y","type":"quantitative","axis":null,"scale":{"domain":[0,900],"range":[0,900],"nice":false,"zero":false}},"color":{"field":"v","type":"quantitative","legend":null,"scale":{"scheme":"viridis","domain":[-0.996,0.996],"clamp":true}}}},
{"data":{"name":"cells"},"mark":{"type":"square","size":650,"opacity":1,"xOffset":-6,"yOffset":-6},"encoding":{"x":{"field":"x","type":"quantitative","axis":null},"y":{"field":"y","type":"quantitative","axis":null},"color":{"field":"v","type":"quantitative","legend":null}}},
{"data":{"name":"cells"},"mark":{"type":"square","size":650,"opacity":0.5,"xOffset":6,"yOffset":6},"encoding":{"x":{"field":"x","type":"quantitative","axis":null},"y":{"field":"y","type":"quantitative","axis":null},"color":{"field":"v","type":"quantitative","legend":null}}},
{"data":{"name":"cells"},"mark":{"type":"square","size":650,"opacity":0.33,"xOffset":6,"yOffset":-6},"encoding":{"x":{"field":"x","type":"quantitative","axis":null},"y":{"field":"y","type":"quantitative","axis":null},"color":{"field":"v","type":"quantitative","legend":null}}},
{"data":{"name":"cells"},"mark":{"type":"square","size":650,"opacity":0.25,"xOffset":-6,"yOffset":6},"encoding":{"x":{"field":"x","type":"quantitative","axis":null},"y":{"field":"y","type":"quantitative","axis":null},"color":{"field":"v","type":"quantitative","legend":null}}},
{"data":{"name":"strands"},"mark":{"type":"line","strokeWidth":1.5,"strokeDash":[2,2.5]},"encoding":{"x":{"field":"x","type":"quantitative","axis":null},"y":{"field":"y","type":"quantitative","axis":null},"detail":{"field":"s"},"color":{"field":"v","type":"quantitative","legend":null}}},
{"data":{"name":"upper"},"mark":{"type":"area","color":"white"},"encoding":{"x":{"field":"x","type":"quantitative","axis":null},"y":{"field":"e","type":"quantitative","axis":null},"y2":{"datum":0}}},
{"data":{"name":"lower"},"mark":{"type":"area","color":"white"},"encoding":{"x":{"field":"x","type":"quantitative","axis":null},"y":{"field":"e","type":"quantitative","axis":null},"y2":{"datum":900}}},
{"data":{"name":"sides"},"mark":{"type":"area","color":"white"},"encoding":{"x":{"field":"x","type":"quantitative","axis":null},"y":{"datum":0,"type":"quantitative","axis":null},"y2":{"datum":900},"detail":{"field":"s"}}},
{"data":{"name":"holesV"},"mark":{"type":"line","color":"white","strokeWidth":3,"strokeDash":[8,5.5]},"encoding":{"x":{"field":"x","type":"quantitative","axis":null},"y":{"field":"y","type":"quantitative","axis":null},"detail":{"field":"s"}}},
{"data":{"name":"holesD"},"mark":{"type":"line","color":"white","strokeWidth":5,"strokeDash":[3,8.6]},"encoding":{"x":{"field":"x","type":"quantitative","axis":null},"y":{"field":"y","type":"quantitative","axis":null},"detail":{"field":"s"}}},
{"data":{"name":"holesS"},"mark":{"type":"line","color":"white","strokeWidth":2,"strokeDash":[2,11]},"encoding":{"x":{"field":"x","type":"quantitative","axis":null},"y":{"field":"y","type":"quantitative","axis":null},"detail":{"field":"s"}}}
]},
{"layer":[
{"data":{"name":"bar"},"mark":{"type":"rect","strokeWidth":0.7},"encoding":{"x":{"datum":993,"type":"quantitative","axis":null},"x2":{"datum":1049},"y":{"field":"lo","type":"quantitative","scale":{"domain":[-0.996,0.996],"range":[697,171],"nice":false,"zero":false},"axis":{"orient":"right","offset":-151,"values":[-0.5,0,0.5],"domain":false,"ticks":false,"grid":false,"title":null,"labelPadding":10,"labelFont":"Liberation Sans","labelFontSize":20,"labelColor":"#262626","labelOffset":5,"labelExpr":"datum.value === 0 ? '0' : (datum.value < 0 ? '-0.5' : '0.5')"}},"y2":{"field":"hi"},"color":{"field":"v","type":"quantitative","legend":null},"stroke":{"field":"v","type":"quantitative","legend":null,"scale":{"scheme":"viridis","domain":[-0.996,0.996],"clamp":true}}}},
{"data":{"name":"ticks"},"mark":{"type":"rule","color":"#262626","strokeWidth":1.5},"encoding":{"x":{"datum":993,"type":"quantitative","axis":null},"x2":{"datum":998},"y":{"field":"t","type":"quantitative"}}},
{"data":{"name":"ticks"},"mark":{"type":"rule","color":"#262626","strokeWidth":1.5},"encoding":{"x":{"datum":1044,"type":"quantitative","axis":null},"x2":{"datum":1049},"y":{"field":"t","type":"quantitative"}}},
{"data":{"name":"ticks"},"transform":[{"filter":"datum.t === 0"}],"mark":{"type":"rect","fillOpacity":0,"stroke":"#262626","strokeWidth":2},"encoding":{"x":{"datum":993,"type":"quantitative","axis":null},"x2":{"datum":1049},"y":{"datum":-0.996,"type":"quantitative"},"y2":{"datum":0.996}}}
]}
],
"resolve":{"scale":{"y":"independent"}}
}
